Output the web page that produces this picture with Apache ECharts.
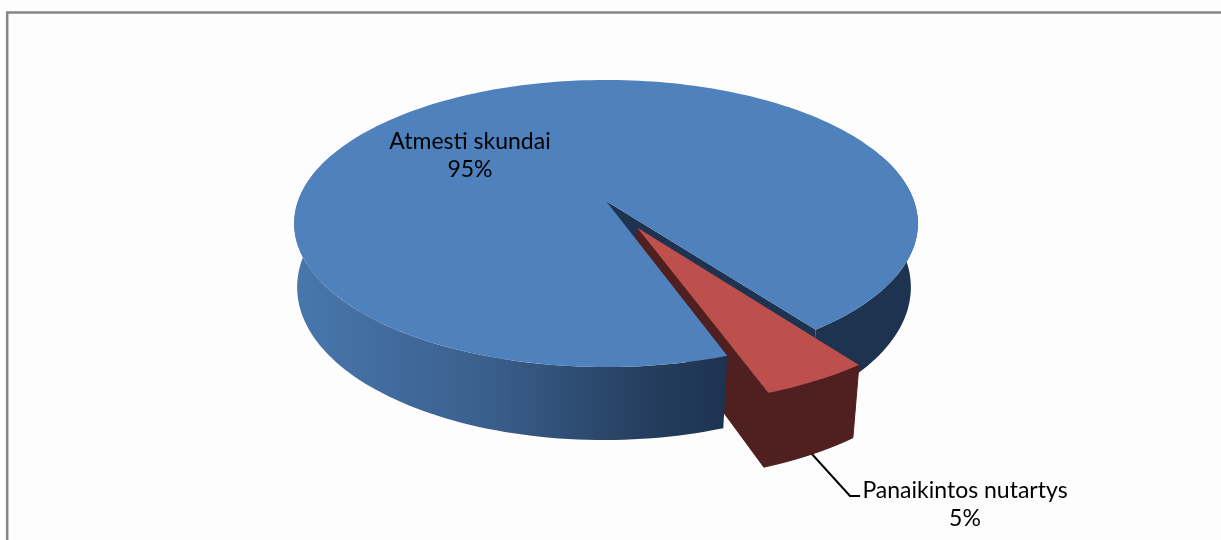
<!DOCTYPE html>
<html>
<head>
<meta charset="utf-8">
<title>Skundai</title>
<script src="https://cdn.jsdelivr.net/npm/echarts@6/dist/echarts.min.js"></script>
<style>
  html, body { margin: 0; padding: 0; background: #fdfdfd; }
  #chart { width: 1221px; height: 540px; }
</style>
</head>
<body>
<div id="chart"></div>
<script>
var categories = ['Atmesti skundai', 'Panaikintos nutartys'];
var shares = [95.3, 4.7];

// look of the 3d pie, fitted by eye to the picture
var firstAngle = 70.4;
var explode = [0, 0.21];
var labelPos = [[470, 155.5], [965, 504.5]];
var leader = [[811, 453], [850, 496], [860, 496]];
var topColors = ['#4f81bd', '#bd504c'];
var wallDark = ['#1d3350', '#4f201f'];

var chart = echarts.init(document.getElementById('chart'), null, {renderer: 'canvas'});
var total = shares.reduce(function (a, b) { return a + b; }, 0);

// unit circle -> screen, with a little perspective (front is nearer)
function project(u, v, bottom) {
	var den = 1 - 0.1568 * v;
	var x = 606 + 308 * u / den;
	var y = (108.5 * v + 201) / den;
	if (bottom) {
		x = 604 + (x - 606) * 0.984;
		y += 62 + 11 * v;
	}
	return [x, y];
}

function rimPoint(deg, off, bottom) {
	var a = deg * Math.PI / 180;
	return project(Math.cos(a) + off[0], Math.sin(a) + off[1], bottom);
}

function arc(from, to, off, bottom) {
	var pts = [];
	var n = Math.max(2, Math.ceil(Math.abs(to - from) / 1.5));
	for (var i = 0; i <= n; i++) {
		pts.push(rimPoint(from + (to - from) * i / n, off, bottom));
	}
	return pts;
}

function wall(from, to, off) {
	return arc(from, to, off, false).concat(arc(from, to, off, true).reverse());
}

function poly(points, fill, z2, seam) {
	var style = {fill: fill};
	// same colour stroke hides the hairline between two faces
	if (seam) {
		style.stroke = fill;
		style.lineWidth = 1;
	}
	return {type: 'polygon', z2: z2, shape: {points: points}, style: style};
}

function renderSlice(params, api) {
	var idx = params.dataIndex;
	var start = firstAngle;
	for (var i = 0; i < idx; i++) start += shares[i] / total * 360;
	var end = start + api.value(0) / total * 360;
	var bis = (start + end) / 2 * Math.PI / 180;
	var off = [Math.cos(bis) * explode[idx], Math.sin(bis) * explode[idx]];
	var apex = project(off[0], off[1], false);
	var apexB = project(off[0], off[1], true);
	var kids = [];
	var edge = rimPoint(end, off, false);
	var edgeB = rimPoint(end, off, true);

	if (idx === 0) {
		kids.push(poly([apex, edge, edgeB, apexB], wallDark[0], 1));
		kids.push(poly(wall(340, end, off), wallDark[0], 2));
		kids.push(poly(wall(start, 200, off), new echarts.graphic.LinearGradient(294, 0, 727, 0, [
			{offset: 0, color: '#4877ad'},
			{offset: 0.45, color: '#3a5f8c'},
			{offset: 0.8, color: '#263f60'},
			{offset: 1, color: '#1d3350'}
		], true), 5));
		kids.push(poly([apex].concat(arc(start, end, off, false)), topColors[0], 6));
	} else {
		kids.push({type: 'polyline', z2: 3, shape: {points: leader}, style: {fill: null, stroke: '#000', lineWidth: 2}});
		kids.push(poly([apex, edge, edgeB, apexB], wallDark[1], 4, true));
		kids.push(poly(wall(start, end, off), wallDark[1], 4, true));
		kids.push(poly([apex].concat(arc(start, end, off, false)), topColors[1], 7));
	}

	kids.push({
		type: 'text',
		z2: 8,
		style: {
			x: labelPos[idx][0],
			y: labelPos[idx][1],
			text: categories[idx] + '\n' + Math.round(api.value(0) / total * 100) + '%',
			align: 'center',
			verticalAlign: 'middle',
			fontFamily: 'Lato',
			fontSize: 23,
			lineHeight: 28,
			fill: '#000'
		}
	});
	return {type: 'group', children: kids};
}

var option = {
	animation: false,
	backgroundColor: '#fdfdfd',
	graphic: [{
		type: 'polyline',
		silent: true,
		shape: {points: [[7.2, 540], [7.2, 12.5], [1221, 12.5]]},
		style: {fill: null, stroke: '#868686', lineWidth: 2.5}
	}],
	series: [{
		type: 'custom',
		coordinateSystem: 'none',
		silent: true,
		renderItem: renderSlice,
		data: shares.map(function (s) { return [s]; })
	}]
};

chart.setOption(option);
</script>
</body>
</html>
